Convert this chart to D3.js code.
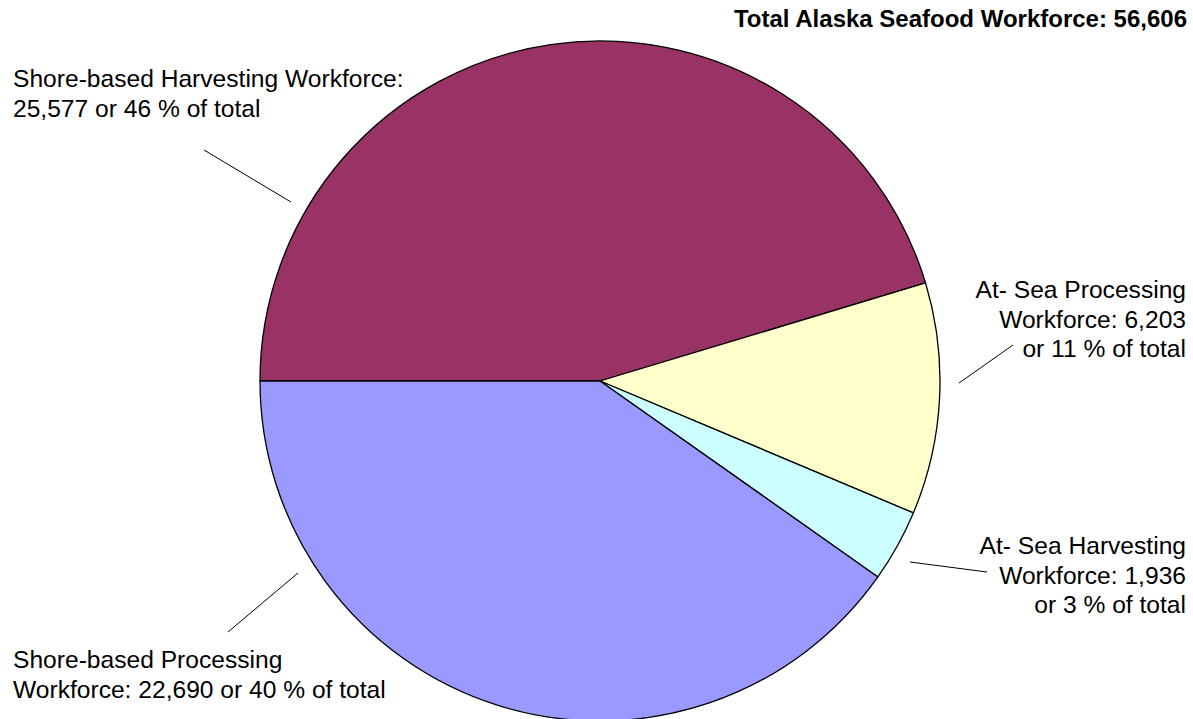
<!DOCTYPE html>
<html>
<head>
<meta charset="utf-8">
<script src="https://cdn.jsdelivr.net/npm/d3@7"></script>
<style>
  body { margin: 0; background: #fff; }
  svg { display: block; font-family: "Liberation Sans", Arial, sans-serif; }
</style>
</head>
<body>
<div id="chart"></div>
<script>
// data
var categories = ['Shore-based Harvesting', 'At- Sea Processing', 'At- Sea Harvesting', 'Shore-based Processing'];
var workforce = [25577, 6203, 1936, 22690];
var percents = [46, 11, 3, 40];
var totalLabel = 'Total Alaska Seafood Workforce: 56,606';

var colors = ['#993366', '#FFFFCC', '#CCFFFF', '#9999FF'];

// label layout (lines, anchor, position, leader line)
var labelLayout = [
	{ lines: function(i){ return [categories[i] + ' Workforce:', d3.format(',')(workforce[i]) + ' or ' + percents[i] + ' % of total']; },
	  x: 13, y: 87, anchor: 'start', leader: [[204, 150], [291, 202]] },
	{ lines: function(i){ return [categories[i], 'Workforce: ' + d3.format(',')(workforce[i]), 'or ' + percents[i] + ' % of total']; },
	  x: 1186, y: 298, anchor: 'end', leader: [[1013, 345], [959, 383]] },
	{ lines: function(i){ return [categories[i], 'Workforce: ' + d3.format(',')(workforce[i]), 'or ' + percents[i] + ' % of total']; },
	  x: 1186, y: 554, anchor: 'end', leader: [[910, 562], [987, 572]] },
	{ lines: function(i){ return [categories[i], 'Workforce: ' + d3.format(',')(workforce[i]) + ' or ' + percents[i] + ' % of total']; },
	  x: 13, y: 668, anchor: 'start', leader: [[298, 573], [228, 632]] }
];

var width = 1193, height = 719;
var cx = 600, cy = 381, radius = 340;
var lineHeight = 29.5;

var svg = d3.select('#chart').append('svg')
	.attr('width', width)
	.attr('height', height);

var pie = d3.pie()
	.sort(null)
	.startAngle(-Math.PI / 2)
	.endAngle(Math.PI * 1.5);

var arc = d3.arc()
	.innerRadius(0)
	.outerRadius(radius);

var g = svg.append('g')
	.attr('transform', 'translate(' + cx + ',' + cy + ')');

g.selectAll('path.slice')
	.data(pie(workforce))
	.enter().append('path')
	.attr('class', 'slice')
	.attr('fill', function(d, i){ return colors[i]; })
	.attr('stroke', '#000')
	.attr('stroke-width', 1.3)
	.attr('stroke-linejoin', 'round')
	.attr('d', arc);

// leader lines
svg.selectAll('line.leader')
	.data(labelLayout)
	.enter().append('line')
	.attr('class', 'leader')
	.attr('x1', function(d){ return d.leader[0][0]; })
	.attr('y1', function(d){ return d.leader[0][1]; })
	.attr('x2', function(d){ return d.leader[1][0]; })
	.attr('y2', function(d){ return d.leader[1][1]; })
	.attr('stroke', '#000')
	.attr('stroke-width', 1);

// labels
labelLayout.forEach(function(l, i){
	var t = svg.append('text')
		.attr('x', l.x)
		.attr('y', l.y)
		.attr('text-anchor', l.anchor)
		.style('font-size', '24.6px')
		.attr('fill', '#000');
	l.lines(i).forEach(function(s, j){
		t.append('tspan')
			.attr('x', l.x)
			.attr('dy', j === 0 ? 0 : lineHeight)
			.text(s);
	});
});

svg.append('text')
	.attr('x', 1187)
	.attr('y', 27)
	.attr('text-anchor', 'end')
	.style('font-size', '24px')
	.style('font-weight', 'bold')
	.text(totalLabel);
</script>
</body>
</html>
